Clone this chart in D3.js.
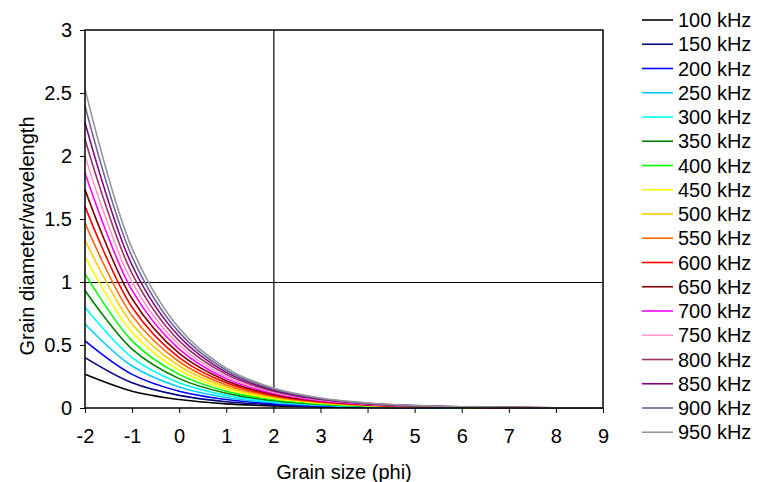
<!DOCTYPE html>
<html>
<head>
<meta charset="utf-8">
<script src="https://cdn.jsdelivr.net/npm/d3@7"></script>
<style>
  body { margin: 0; background: #fff; }
  svg { font-family: "Liberation Sans", Arial, sans-serif; }
</style>
</head>
<body>
<div class="chart"></div>
<script>
// grain size in phi units
const phi = [-2, -1, 0, 1, 2, 3, 4, 5, 6, 7, 8, 9]

const freqs = ['100 kHz', '150 kHz', '200 kHz', '250 kHz', '300 kHz', '350 kHz',
  '400 kHz', '450 kHz', '500 kHz', '550 kHz', '600 kHz', '650 kHz',
  '700 kHz', '750 kHz', '800 kHz', '850 kHz', '900 kHz', '950 kHz']

const lineColors = ['#000000', '#000080', '#0000ff', '#00ccff', '#00ffff', '#008000',
  '#00ff00', '#ffff00', '#ffcc00', '#ff6600', '#ff0000', '#800000',
  '#ff00ff', '#ff99cc', '#993366', '#800080', '#666699', '#969696']

// grain diameter / wavelength, read at each phi value
const r100 = [0.267, 0.133, 0.067, 0.033, 0.017, 0.008, 0.004, 0.002, 0.001, 0.001, 0, 0]
const r150 = [0.400, 0.200, 0.100, 0.050, 0.025, 0.013, 0.006, 0.003, 0.002, 0.001, 0, 0]
const r200 = [0.533, 0.267, 0.133, 0.067, 0.033, 0.017, 0.008, 0.004, 0.002, 0.001, 0.001, 0]
const r250 = [0.667, 0.333, 0.167, 0.083, 0.042, 0.021, 0.010, 0.005, 0.003, 0.001, 0.001, 0]
const r300 = [0.800, 0.400, 0.200, 0.100, 0.050, 0.025, 0.013, 0.006, 0.003, 0.002, 0.001, 0]
const r350 = [0.933, 0.467, 0.233, 0.117, 0.058, 0.029, 0.015, 0.007, 0.004, 0.002, 0.001, 0]
const r400 = [1.067, 0.533, 0.267, 0.133, 0.067, 0.033, 0.017, 0.008, 0.004, 0.002, 0.001, 0.001]
const r450 = [1.200, 0.600, 0.300, 0.150, 0.075, 0.038, 0.019, 0.009, 0.005, 0.002, 0.001, 0.001]
const r500 = [1.333, 0.667, 0.333, 0.167, 0.083, 0.042, 0.021, 0.010, 0.005, 0.003, 0.001, 0.001]
const r550 = [1.467, 0.733, 0.367, 0.183, 0.092, 0.046, 0.023, 0.011, 0.006, 0.003, 0.001, 0.001]
const r600 = [1.600, 0.800, 0.400, 0.200, 0.100, 0.050, 0.025, 0.013, 0.006, 0.003, 0.002, 0.001]
const r650 = [1.733, 0.867, 0.433, 0.217, 0.108, 0.054, 0.027, 0.014, 0.007, 0.003, 0.002, 0.001]
const r700 = [1.867, 0.933, 0.467, 0.233, 0.117, 0.058, 0.029, 0.015, 0.007, 0.004, 0.002, 0.001]
const r750 = [2.000, 1.000, 0.500, 0.250, 0.125, 0.063, 0.031, 0.016, 0.008, 0.004, 0.002, 0.001]
const r800 = [2.133, 1.067, 0.533, 0.267, 0.133, 0.067, 0.033, 0.017, 0.008, 0.004, 0.002, 0.001]
const r850 = [2.267, 1.133, 0.567, 0.283, 0.142, 0.071, 0.035, 0.018, 0.009, 0.004, 0.002, 0.001]
const r900 = [2.400, 1.200, 0.600, 0.300, 0.150, 0.075, 0.038, 0.019, 0.009, 0.005, 0.002, 0.001]
const r950 = [2.533, 1.267, 0.633, 0.317, 0.158, 0.079, 0.040, 0.020, 0.010, 0.005, 0.002, 0.001]

const series = [r100, r150, r200, r250, r300, r350, r400, r450, r500,
  r550, r600, r650, r700, r750, r800, r850, r900, r950]

const xTicks = [-2, -1, 0, 1, 2, 3, 4, 5, 6, 7, 8, 9]
const yTicks = [0, 0.5, 1, 1.5, 2, 2.5, 3]

const svg = d3.select('.chart')
  .append('svg')
    .attr('width', 758)
    .attr('height', 482)

const plotLeft = 85, plotRight = 603, plotTop = 30, plotBottom = 408

const xScale = d3.scaleLinear().domain([-2, 9]).range([plotLeft, plotRight])
const yScale = d3.scaleLinear().domain([0, 3]).range([plotBottom, plotTop])

const colors = d3.scaleOrdinal().domain(freqs).range(lineColors)

//reference lines at ratio 1 and phi 2
svg.append('line')
  .attr('x1', plotLeft).attr('x2', plotRight)
  .attr('y1', yScale(1) + 0.5).attr('y2', yScale(1) + 0.5)
  .style('stroke', '#000').style('stroke-width', 1.2)

svg.append('line')
  .attr('x1', xScale(2) + 0.5).attr('x2', xScale(2) + 0.5)
  .attr('y1', plotTop).attr('y2', plotBottom)
  .style('stroke', '#000').style('stroke-width', 1.2)

//curves
const line = d3.line()
  .x((d, i) => xScale(phi[i]))
  .y(d => yScale(d))
  .curve(d3.curveCatmullRom.alpha(0.5))

svg.selectAll('path.curve')
  .data(series)
  .enter()
  .append('path')
    .attr('class', 'curve')
    .attr('d', line)
    .style('fill', 'none')
    .style('stroke', (d, i) => colors(freqs[i]))
    .style('stroke-width', 1.6)

//plot frame
svg.append('rect')
  .attr('x', plotLeft).attr('y', plotTop)
  .attr('width', plotRight - plotLeft).attr('height', plotBottom - plotTop)
  .style('fill', 'none')
  .style('stroke', '#000')
  .style('stroke-width', 1.5)

//axes
const xAxis = svg.append('g')
  .attr('transform', `translate(0, ${plotBottom})`)
  .call(d3.axisBottom(xScale).tickValues(xTicks).tickSize(5).tickPadding(16)
    .tickFormat(d => String(d)))

const yAxis = svg.append('g')
  .attr('transform', `translate(${plotLeft}, 0)`)
  .call(d3.axisLeft(yScale).tickValues(yTicks).tickSize(5).tickPadding(8)
    .tickFormat(d => String(d)))

;[xAxis, yAxis].forEach(ax => {
  ax.select('.domain').remove()
  ax.selectAll('line').style('stroke', '#000').style('stroke-width', 1)
  ax.selectAll('text')
    .style('font-size', '20px')
    .style('font-family', '"Liberation Sans", Arial, sans-serif')
    .style('fill', '#000')
})

svg.append('text')
  .attr('x', 344)
  .attr('y', 479)
  .style('text-anchor', 'middle')
  .style('font-size', '20px')
  .text('Grain size (phi)')

svg.append('text')
  .attr('transform', 'rotate(-90)')
  .attr('x', -236)
  .attr('y', 34)
  .style('text-anchor', 'middle')
  .style('font-size', '20px')
  .text('Grain diameter/wavelength')

//legend
const legend = svg.selectAll('g.legend')
  .data(freqs)
  .enter()
  .append('g')
    .attr('class', 'legend')
    .attr('transform', (d, i) => `translate(642, ${20 + i * 24.25})`)

legend.append('line')
  .attr('x1', 0).attr('x2', 31)
  .style('stroke', d => colors(d))
  .style('stroke-width', 1.6)

legend.append('text')
  .attr('x', 36)
  .attr('dy', '0.35em')
  .style('font-size', '20px')
  .text(d => d)
</script>
</body>
</html>
